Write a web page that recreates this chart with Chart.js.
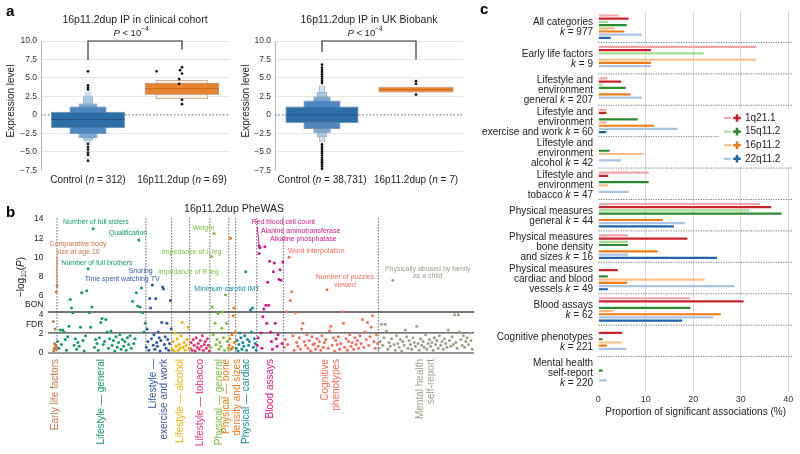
<!DOCTYPE html>
<html><head><meta charset="utf-8">
<script src="https://cdn.jsdelivr.net/npm/chart.js@4.4.0/dist/chart.umd.min.js"></script>
<style>
html,body{margin:0;padding:0;background:#fff;width:800px;height:454px;overflow:hidden;}
canvas{position:absolute;}
.lt{position:absolute;z-index:5;font:bold 15px 'Liberation Sans',Arial,sans-serif;line-height:15px;color:#000;}
</style></head><body>
<canvas id="ca1" width="240" height="195" style="left:0;top:0"></canvas>
<canvas id="ca2" width="230" height="195" style="left:240px;top:0"></canvas>
<canvas id="cb" width="480" height="259" style="left:0;top:195px"></canvas>
<canvas id="cc" width="320" height="454" style="left:480px;top:0"></canvas>
<div class="lt" style="left:6px;top:3px">a</div>
<div class="lt" style="left:6px;top:204px">b</div>
<div class="lt" style="left:480px;top:1px">c</div>
<script>
// ================= DATA =================
// ---- Panel a : letter-value (boxen) boxes [low, high], medians, outliers ----
const yTicksA = [-7.5, -5, -2.5, 0, 2.5, 5, 7.5, 10];

const clinCtrlBoxes = [[-1.81, 0.42], [-2.58, 1.13], [-3.12, 1.55], [-3.48, 2.48], [-3.84, 3.18]];
const clinCtrlMedian = -0.63;
const clinCtrlOutliers = [5.9, 4.0, 3.7, 3.45, -3.95, -4.35, -4.7, -5.1, -5.4, -6.2];
const clinDupBoxes = [[2.72, 4.3], [2.15, 4.68]];
const clinDupMedian = 3.6;
const clinDupOutliers = [5.9, 6.45, 6.05, 5.6, 4.85, 4.2, 2.05, 1.45];
const clinBracket = [7.4, 10, 8.8];
const clinN = ['312', '69'];

const ukbCtrlBoxes = [[-1.09, 1.13], [-1.9, 1.94], [-2.49, 2.48], [-3.03, 3.07], [-3.71, 3.98]];
const ukbCtrlMedian = 0;
const ukbCtrlOutliers = [4.3, 4.6, 4.9, 5.2, 5.5, 5.8, 6.1, 6.4, 6.8, -4.0, -4.3, -4.6, -4.9, -5.2, -5.5, -5.8, -6.1, -6.4, -6.7, -7.0, -7.3];
const ukbDupBoxes = [[3.03, 3.8]];
const ukbDupMedian = 3.45;
const ukbDupOutliers = [4.56, 4.2, 2.75];
const ukbBracket = [8.5, 10, 7.5];
const ukbN = ['38,731', '7'];

// ---- Panel b : PheWAS -log10(P) per category ----
const pheNames = [['Early life factors'], ['Lifestyle — general'], ['Lifestyle —', 'exercise and work'], ['Lifestyle — alcohol'], ['Lifestyle — tobacco'], ['Physical — general'], ['Physical — bone', 'density and sizes'], ['Physical — cardiac'], ['Blood assays'], ['Cognitive', 'phenotypes'], ['Mental health', 'self-report']];
const pheK = [9, 207, 60, 42, 47, 44, 16, 49, 62, 221, 220];
const pheEarly = [3.3, 0.2, 0.5, 1.0, 2.5, 0.8, 0.4, 6.4, 0.6];
const pheLifeGeneral = [1.2, 0.5, 2.4, 0.9, 2.4, 2.2, 1.4, 0.3, 1.7, 2.8, 5.6, 4.7, 4.2, 0.8, 1.5, 0.4, 1.1, 0.7, 2.7, 6.3, 1.3, 0.2, 1.8, 6.5, 8.8, 4.2, 2.7, 4.8, 13.0, 0.6, 1.4, 1.0, 0.3, 1.6, 3.2, 3.6, 0.9, 1.2, 3.5, 2.2, 0.5, 1.5, 2.3, 0.8, 1.3, 0.2, 1.7, 0.6, 1.1, 1.9, 0.4, 1.4, 0.7, 1.2, 0.3, 1.6, 0.9, 1.8, 0.5, 5.4, 1.0, 1.5, 6.3, 4.9, 11.8, 4.8, 6.8, 4.2, 2.2, 3.1];
const pheExercise = [0.6, 2.5, 1.2, 0.3, 5.7, 4.7, 1.5, 7.1, 0.8, 1.9, 0.4, 5.7, 1.1, 0.7, 2.2, 1.6, 0.2, 1.3, 3.2, 6.9, 6.7, 0.9, 1.7, 0.5, 3.1, 1.4, 0.3, 1.0, 5.5, 2.5];
const pheAlcohol = [0.4, 1.2, 0.2, 2.1, 0.7, 1.5, 0.3, 0.9, 0.5, 1.8, 3.2, 0.6, 1.1, 0.3, 0.8, 1.4, 2.7, 0.5];
const pheTobacco = [0.5, 1.1, 0.3, 1.4, 0.8, 0.2, 1.6, 0.6, 1.0, 0.4, 1.3, 0.7, 1.8, 0.3, 0.9, 1.2, 0.5, 1.5, 0.8, 0.2];
const phePhysGeneral = [0.6, 10.1, 4.8, 1.9, 12.5, 3.1, 0.9, 1.4, 4.1, 0.4, 1.1, 0.7, 2.6, 4.3, 1.6, 0.3, 6.1, 3.1, 1.2, 0.5];
const pheBone = [0.8, 1.5, 12.0, 0.4, 1.9, 0.6, 3.9, 4.7, 1.1, 2.2];
const pheCardiac = [0.5, 1.3, 0.2, 0.9, 2.1, 1.6, 0.4, 1.1, 0.7, 1.8, 8.5, 0.3, 1.4, 0.8, 1.2, 4.5, 2.2, 4.7, 0.6, 1.5, 1.0, 0.3];
const pheBlood = [0.8, 1.6, 10.4, 11.0, 2.1, 0.5, 3.8, 4.6, 11.1, 5.0, 3.1, 7.4, 5.0, 9.6, 2.2, 1.2, 0.4, 8.5, 9.4, 3.1, 1.5, 0.7, 1.9, 7.7, 8.7, 7.6, 1.0, 9.5];
const pheCognitive = [0.6, 1.4, 4.3, 0.9, 10.0, 5.5, 6.4, 1.8, 0.3, 4.2, 1.1, 0.7, 1.6, 0.4, 2.5, 3.1, 1.2, 0.8, 1.9, 0.5, 1.3, 0.2, 1.7, 0.9, 1.0, 0.4, 1.5, 0.7, 1.2, 0.3, 1.8, 0.6, 1.1, 1.4, 6.6, 0.5, 2.3, 2.8, 0.8, 1.6, 0.2, 1.3, 0.9, 1.7, 0.4, 1.0, 4.3, 3.1, 0.6, 1.5, 0.3, 1.2, 1.9, 0.7, 1.1, 0.4, 1.6, 0.9, 1.3, 0.5, 1.8, 1.0, 3.5, 0.6, 2.2, 1.4, 3.2, 0.8, 1.7, 2.7, 3.9, 1.2, 0.5, 1.9, 1.0];
const pheMental = [0.5, 1.2, 3.0, 0.8, 1.6, 3.0, 2.3, 0.4, 1.1, 0.7, 1.5, 7.6, 0.9, 0.3, 1.8, 1.0, 0.6, 1.4, 0.2, 1.2, 0.8, 2.4, 1.7, 0.5, 1.3, 0.9, 0.4, 1.6, 1.1, 0.7, 2.8, 1.0, 0.3, 1.5, 0.8, 1.2, 0.6, 1.9, 0.4, 1.0, 1.4, 0.7, 1.1, 0.3, 1.6, 0.9, 1.3, 0.5, 1.8, 0.8, 1.2, 0.4, 1.5, 1.0, 0.6, 2.4, 1.3, 0.7, 1.7, 0.9, 4.0, 1.1, 0.5, 4.0, 2.2, 1.4, 0.8, 1.8, 0.6, 1.2, 1.6, 0.9, 2.1, 1.3, 0.4];
const pheValues = [pheEarly, pheLifeGeneral, pheExercise, pheAlcohol, pheTobacco, phePhysGeneral, pheBone, pheCardiac, pheBlood, pheCognitive, pheMental];
const pheYTicks = [0, 2, 4, 6, 8, 10, 12, 14];
const bonThreshold = 4.29;
const fdrThreshold = 2.1;

// ---- Panel c : proportion of significant associations (%) ----
const cLabels = [
  ['All categories', ''],
  ['Early life factors', ''],
  ['Lifestyle and', 'environment', 'general'],
  ['Lifestyle and', 'environment', 'exercise and work'],
  ['Lifestyle and', 'environment', 'alcohol'],
  ['Lifestyle and', 'environment', 'tobacco'],
  ['Physical measures', 'general'],
  ['Physical measures', 'bone density', 'and sizes'],
  ['Physical measures', 'cardiac and blood', 'vessels'],
  ['Blood assays', ''],
  ['Cognitive phenotypes', ''],
  ['Mental health', 'self-report', '']
];
const cK = [977, 9, 207, 60, 42, 47, 44, 16, 49, 62, 221, 220];
const cnvNames = ['1q21.1', '15q11.2', '16p11.2', '22q11.2'];
const del1q21  = [4.2, 33.3, 1.9, 1.7, null, 10.6, 34.1, 6.25, null, 19.4, null, null];
const dup1q21  = [6.4, 11.1, 4.8, 1.7, null, 2.1, 36.4, 18.75, 4.1, 30.6, 5.0, null];
const del15q11 = [2.0, 22.2, 0.97, null, null, null, 31.8, 6.25, null, null, null, null];
const dup15q11 = [6.0, null, 5.8, 8.3, 2.4, 10.6, 38.6, 6.25, 2.0, 19.4, 0.9, 0.9];
const del16p11 = [3.4, 33.3, null, 1.7, 9.5, 2.1, null, null, 22.4, 3.2, 5.0, null];
const dup16p11 = [5.5, 11.1, 6.8, 11.7, null, null, 13.6, 12.5, 6.1, 25.8, 1.8, null];
const del22q11 = [9.2, 11.1, 9.2, 16.7, 4.8, 6.4, 18.2, 6.25, 28.6, 24.2, 5.9, 1.8];
const dup22q11 = [2.6, null, null, 1.7, null, null, 15.9, 25.0, 2.0, 17.7, null, null];
const cXTicks = [0, 10, 20, 30, 40];

// ================= STYLE =================
const FF = "'Liberation Sans', Arial, Helvetica, sans-serif";
Chart.defaults.font.family = FF;
Chart.defaults.color = '#222';
const TXT = '#222';
const blueLevels = ['#2f6ea5', '#4c88be', '#7ba7d1', '#a9c6e3', '#d0e0f0'];
const orangeLevels = ['#e8822e', '#fdf0e3'];
const pheColors = ['#c8764a', '#12996a', '#3056a5', '#f0b400', '#e8326d', '#7cbd40', '#f07a12', '#138a9e', '#d3148c', '#fa6d5d', '#9ea08c'];
const cnvLight = ['#f5a3a6', '#a3dc92', '#fcbd85', '#a9c4e5'];
const cnvDark = ['#c9202b', '#2b8a30', '#ef7a16', '#1f64a8'];

function drawRich(ctx, segs, x, y, align, size, color) {
  ctx.save();
  ctx.fillStyle = color; ctx.textBaseline = 'middle'; ctx.textAlign = 'left';
  const parts = segs.map(s => {
    const sz = (s.sup || s.sub) ? size * 0.68 : size;
    const font = (s.it ? 'italic ' : '') + sz + 'px ' + FF;
    ctx.font = font;
    return {s, font, w: ctx.measureText(s.t).width};
  });
  const total = parts.reduce((a, p) => a + p.w, 0);
  let cx = align === 'center' ? x - total / 2 : (align === 'right' ? x - total : x);
  parts.forEach(p => {
    ctx.font = p.font;
    const dy = p.s.sup ? -size * 0.38 : (p.s.sub ? size * 0.3 : 0);
    ctx.fillText(p.s.t, cx, y + dy);
    cx += p.w;
  });
  ctx.restore();
}
function drawRot(ctx, segs, x, y, align, size, color) {
  ctx.save(); ctx.translate(x, y); ctx.rotate(-Math.PI / 2);
  drawRich(ctx, segs, 0, 0, align, size, color);
  ctx.restore();
}

// ================= PANEL A =================
function boxenChart(id, o) {
  const pts = [];
  o.ctrlOut.forEach(v => pts.push({x: 0, y: v}));
  o.dupOut.forEach((v, i) => pts.push({x: 1 + (o.dupDx ? o.dupDx[i] : 0), y: v}));
  const bar = (data, w, fill, stroke, bw) => ({type: 'bar', xAxisID: 'x', yAxisID: 'y', data, barPercentage: w, categoryPercentage: 1, grouped: false, backgroundColor: fill, borderColor: stroke, borderWidth: bw, borderSkipped: false});
  const ds = [{type: 'scatter', xAxisID: 'xs', yAxisID: 'y', data: pts, pointRadius: 1.35, backgroundColor: '#111', borderWidth: 0, clip: false}];
  ds.push(bar([[o.ctrlMed - 0.05, o.ctrlMed + 0.05], null], o.ctrlW[0], 'rgba(20,55,95,0.55)', 'rgba(0,0,0,0)', 0));
  ds.push(bar([null, [o.dupMed - 0.05, o.dupMed + 0.05]], o.dupW[0], 'rgba(150,75,15,0.45)', 'rgba(0,0,0,0)', 0));
  o.ctrlBoxes.forEach((b, j) => ds.push(bar([b, null], o.ctrlW[j], blueLevels[j], 'rgba(105,130,160,0.95)', 0.7)));
  o.dupBoxes.forEach((b, j) => ds.push(bar([null, b], o.dupW[j], orangeLevels[j], 'rgba(150,115,85,0.9)', 0.7)));
  new Chart(document.getElementById(id), {
    type: 'bar',
    data: {labels: ['Control', '16p11.2dup'], datasets: ds},
    options: {
      responsive: false, animation: false, devicePixelRatio: 1, events: [],
      layout: {padding: {left: 0, right: o.padR, top: 41, bottom: 24.7}},
      plugins: {legend: {display: false}, tooltip: {enabled: false}},
      scales: {
        x: {type: 'category', display: false, offset: true},
        xs: {type: 'linear', display: false, offset: false, min: -0.5, max: 1.5, grid: {offset: false}},
        y: {type: 'linear', min: -7.5, max: 10,
          afterBuildTicks: s => { s.ticks = yTicksA.map(v => ({value: v})); },
          afterFit: s => { s.width = o.axisW; },
          ticks: {font: {size: 8.5}, color: '#333', padding: 4, callback: v => v === 0 ? '0' : v.toFixed(1).replace('-', '−')},
          grid: {drawTicks: false, color: c => (c.tick && (c.tick.value === 0 || c.tick.value === -7.5)) ? 'rgba(0,0,0,0)' : '#e6e6e6'},
          border: {display: true, color: '#b8b8b8', width: 1}}
      }
    },
    plugins: [{
      id: 'annA',
      beforeDatasetsDraw(chart) {
        const ctx = chart.ctx, a = chart.chartArea, y0 = chart.scales.y.getPixelForValue(0);
        ctx.save(); ctx.strokeStyle = '#666'; ctx.lineWidth = 1; ctx.setLineDash([1.5, 2]);
        ctx.beginPath(); ctx.moveTo(a.left, y0); ctx.lineTo(a.right, y0); ctx.stroke(); ctx.restore();
      },
      afterDraw(chart) {
        const ctx = chart.ctx, a = chart.chartArea, xc = chart.scales.x, y = chart.scales.y;
        const x0 = xc.getPixelForValue(0), x1 = xc.getPixelForValue(1), cx = (a.left + a.right) / 2;
        drawRich(ctx, [{t: o.title}], cx, 20, 'center', 10.5, TXT);
        ctx.save(); ctx.strokeStyle = '#333'; ctx.lineWidth = 1.2; ctx.beginPath();
        ctx.moveTo(x0, y.getPixelForValue(o.bracket[0])); ctx.lineTo(x0, y.getPixelForValue(o.bracket[1]));
        ctx.lineTo(x1, y.getPixelForValue(o.bracket[1])); ctx.lineTo(x1, y.getPixelForValue(o.bracket[2]));
        ctx.stroke(); ctx.restore();
        drawRich(ctx, [{t: 'P', it: true}, {t: ' < 10'}, {t: '−4', sup: true}], (x0 + x1) / 2 - 4, 33, 'center', 9.5, TXT);
        drawRich(ctx, [{t: 'Control ('}, {t: 'n', it: true}, {t: ' = ' + o.n[0] + ')'}], x0, 180, 'center', 10, TXT);
        drawRich(ctx, [{t: '16p11.2dup ('}, {t: 'n', it: true}, {t: ' = ' + o.n[1] + ')'}], x1, 180, 'center', 10, TXT);
        drawRot(ctx, [{t: 'Expression level'}], o.yTitleX, 101, 'center', 10, TXT);
      }
    }]
  });
}
boxenChart('ca1', {ctrlBoxes: clinCtrlBoxes, ctrlMed: clinCtrlMedian, ctrlOut: clinCtrlOutliers,
  dupBoxes: clinDupBoxes, dupMed: clinDupMedian, dupOut: clinDupOutliers, dupDx: [-0.27, 0, -0.02, 0, -0.03, -0.03, 0, 0],
  ctrlW: [0.787, 0.394, 0.202, 0.106, 0.071], dupW: [0.787, 0.553],
  bracket: clinBracket, n: clinN, title: '16p11.2dup IP in clinical cohort', axisW: 41, padR: 11, yTitleX: 11});
boxenChart('ca2', {ctrlBoxes: ukbCtrlBoxes, ctrlMed: ukbCtrlMedian, ctrlOut: ukbCtrlOutliers,
  dupBoxes: ukbDupBoxes, dupMed: ukbDupMedian, dupOut: ukbDupOutliers, dupDx: null,
  ctrlW: [0.777, 0.394, 0.184, 0.106, 0.06], dupW: [0.8],
  bracket: ukbBracket, n: ukbN, title: '16p11.2dup IP in UK Biobank', axisW: 35, padR: 7, yTitleX: 6});

// ================= PANEL B =================
const pheStarts = [];
{ let s = 0; pheK.forEach(k => { pheStarts.push(s); s += k; }); }
const pheDatasets = pheValues.map((vals, c) => ({
  data: vals.map((v, i) => ({x: pheStarts[c] + (i + 0.5) * pheK[c] / vals.length, y: v})),
  backgroundColor: pheColors[c], pointRadius: 1.5, borderWidth: 0, clip: false
}));
const pheNotes = [
  {t: ['Number of full sisters'], x: 99.6, y: 13.66, c: 1},
  {t: ['Qualification'], x: 174.3, y: 12.5, c: 1},
  {t: ['Comparative body', 'size at age 10'], x: 58, y: 11.36, c: 0},
  {t: ['Number of full brothers'], x: 102.2, y: 9.44, c: 1},
  {t: ['Snoring'], x: 204, y: 8.54, c: 2},
  {t: ['Time spent watching TV'], x: 161, y: 7.7, c: 2},
  {t: ['Weight'], x: 349.6, y: 13.1, c: 5},
  {t: ['Impedance of L leg'], x: 322.6, y: 10.6, c: 5},
  {t: ['Impedance of R leg'], x: 314.7, y: 8.46, c: 5},
  {t: ['Minimum carotid IMT'], x: 404.8, y: 6.72, c: 7},
  {t: ['Red blood cell count'], x: 535.8, y: 13.66, c: 8},
  {t: ['Alanine aminotransferase'], x: 576.4, y: 12.78, c: 8},
  {t: ['Alkaline phosphatase'], x: 582.4, y: 11.94, c: 8},
  {t: ['Word interpolation'], x: 612.6, y: 10.69, c: 9},
  {t: ['Number of puzzles', 'viewed'], x: 679.5, y: 7.91, c: 9},
  {t: ['Physically abused by family', 'as a child'], x: 872, y: 8.81, c: 10}
];
const pheArrows = [
  {x0: 9.1, y0: 10.14, x1: 9.1, y1: 6.75, c: 0},
  {x0: 475.3, y0: 13.17, x1: 480.4, y1: 10.9, c: 8}
];
new Chart(document.getElementById('cb'), {
  type: 'scatter',
  data: {datasets: pheDatasets},
  options: {
    responsive: false, animation: false, devicePixelRatio: 1, events: [],
    layout: {padding: {left: 0, right: 5.9, top: 21.2, bottom: 101}},
    plugins: {legend: {display: false}, tooltip: {enabled: false}},
    scales: {
      x: {type: 'linear', display: false, min: -12, max: 980},
      y: {type: 'linear', min: 0, max: 14.3,
        afterBuildTicks: s => { s.ticks = pheYTicks.concat([3.0, 5.1]).sort((a, b) => a - b).map(v => ({value: v})); },
        afterFit: s => { s.width = 47.9; },
        ticks: {font: {size: 8.5}, color: '#222', padding: 4.5, callback: v => v === 5.1 ? 'BON' : (v === 3.0 ? 'FDR' : String(v))},
        grid: {display: false, drawTicks: false}, border: {display: false}}
    }
  },
  plugins: [{
    id: 'annB',
    beforeDatasetsDraw(chart) {
      const ctx = chart.ctx, a = chart.chartArea, x = chart.scales.x, y = chart.scales.y;
      ctx.save();
      ctx.strokeStyle = '#555'; ctx.lineWidth = 1; ctx.setLineDash([1.4, 1.6]);
      pheStarts.slice(1).forEach(s => {
        const px = x.getPixelForValue(s);
        ctx.beginPath(); ctx.moveTo(px, y.getPixelForValue(14.1)); ctx.lineTo(px, y.getPixelForValue(0)); ctx.stroke();
      });
      ctx.setLineDash([]);
      ctx.strokeStyle = '#474747'; ctx.lineWidth = 1.4;
      [bonThreshold, fdrThreshold].forEach(v => {
        const py = y.getPixelForValue(v);
        ctx.beginPath(); ctx.moveTo(a.left, py); ctx.lineTo(a.right, py); ctx.stroke();
      });
      ctx.strokeStyle = '#999'; ctx.lineWidth = 1.8;
      const p0 = y.getPixelForValue(0);
      ctx.beginPath(); ctx.moveTo(a.left, p0); ctx.lineTo(a.right, p0); ctx.stroke();
      ctx.restore();
    },
    afterDraw(chart) {
      const ctx = chart.ctx, a = chart.chartArea, x = chart.scales.x, y = chart.scales.y;
      drawRich(ctx, [{t: '16p11.2dup PheWAS'}], 234, 14, 'center', 10.5, TXT);
      drawRot(ctx, [{t: '−log'}, {t: '10', sub: true}, {t: '('}, {t: 'P', it: true}, {t: ')'}], 21, 82, 'center', 10, TXT);
      pheNames.forEach((lines, c) => {
        const px = x.getPixelForValue(pheStarts[c] + pheK[c] / 2);
        lines.forEach((ln, j) => {
          const lx = px + (j - (lines.length - 1) / 2) * 11;
          drawRot(ctx, [{t: ln}], lx, 164, 'right', 10, pheColors[c]);
        });
      });
      pheNotes.forEach(nt => {
        const px = x.getPixelForValue(nt.x), py = y.getPixelForValue(nt.y);
        nt.t.forEach((ln, j) => drawRich(ctx, [{t: ln}], px, py + j * 7.3, 'center', 7, pheColors[nt.c]));
      });
      pheArrows.forEach(ar => {
        const X0 = x.getPixelForValue(ar.x0), Y0 = y.getPixelForValue(ar.y0), X1 = x.getPixelForValue(ar.x1), Y1 = y.getPixelForValue(ar.y1);
        ctx.save(); ctx.strokeStyle = pheColors[ar.c]; ctx.fillStyle = pheColors[ar.c]; ctx.lineWidth = 1;
        ctx.beginPath(); ctx.moveTo(X0, Y0); ctx.lineTo(X1, Y1); ctx.stroke();
        const ang = Math.atan2(Y1 - Y0, X1 - X0);
        ctx.beginPath(); ctx.moveTo(X1, Y1);
        ctx.lineTo(X1 - 4 * Math.cos(ang - 0.45), Y1 - 4 * Math.sin(ang - 0.45));
        ctx.lineTo(X1 - 4 * Math.cos(ang + 0.45), Y1 - 4 * Math.sin(ang + 0.45));
        ctx.closePath(); ctx.fill(); ctx.restore();
      });
    }
  }]
});

// ================= PANEL C =================
const cSeries = [del1q21, dup1q21, del15q11, dup15q11, del16p11, dup16p11, del22q11, dup22q11];
const cColors = [cnvLight[0], cnvDark[0], cnvLight[1], cnvDark[1], cnvLight[2], cnvDark[2], cnvLight[3], cnvDark[3]];
new Chart(document.getElementById('cc'), {
  type: 'bar',
  data: {labels: cLabels.map((_, i) => String(i)), datasets: cSeries.map((d, j) => ({data: d, backgroundColor: cColors[j], borderWidth: 0, categoryPercentage: 0.815, barPercentage: 0.68}))},
  options: {
    indexAxis: 'y', responsive: false, animation: false, devicePixelRatio: 1, events: [],
    layout: {padding: {left: 118.3, right: 7, top: 11, bottom: 44}},
    plugins: {legend: {display: false}, tooltip: {enabled: false}},
    scales: {
      x: {type: 'linear', min: 0, max: 41, position: 'bottom',
        afterBuildTicks: s => { s.ticks = cXTicks.map(v => ({value: v})); },
        afterFit: s => { s.height = 22; },
        ticks: {font: {size: 9}, color: '#333', padding: 2, maxRotation: 0},
        grid: {color: c => (c.tick && c.tick.value === 0) ? 'rgba(0,0,0,0)' : '#d6d6d6', tickLength: 4},
        border: {display: false}},
      y: {type: 'category', display: false, offset: true}
    }
  },
  plugins: [{
    id: 'annC',
    beforeDatasetsDraw(chart) {
      const ctx = chart.ctx, a = chart.chartArea, y = chart.scales.y;
      ctx.save(); ctx.strokeStyle = '#777'; ctx.lineWidth = 1; ctx.setLineDash([1.2, 1.3]);
      for (let i = 0; i < cLabels.length - 1; i++) {
        const py = (y.getPixelForValue(i) + y.getPixelForValue(i + 1)) / 2;
        ctx.beginPath(); ctx.moveTo(a.left, py); ctx.lineTo(a.right, py); ctx.stroke();
      }
      ctx.restore();
    },
    afterDraw(chart) {
      const ctx = chart.ctx, a = chart.chartArea, y = chart.scales.y;
      cLabels.forEach((lines, i) => {
        const cy = y.getPixelForValue(i) + 1, n = lines.length;
        lines.forEach((ln, j) => {
          const ly = cy + (j - (n - 1) / 2) * 10;
          let segs;
          if (j === n - 1) {
            segs = (ln ? [{t: ln + ' '}] : []).concat([{t: 'k', it: true}, {t: ' = ' + cK[i]}]);
          } else segs = [{t: ln}];
          drawRich(ctx, segs, 113, ly, 'right', 10, TXT);
        });
      });
      drawRich(ctx, [{t: 'Proportion of significant associations (%)'}], (a.left + a.right) / 2, 412, 'center', 10, TXT);
      ctx.save(); ctx.fillStyle = '#fff'; ctx.fillRect(239, 109, 73, 58); ctx.restore();
      cnvNames.forEach((nm, j) => {
        const ly = 118 + j * 13.6;
        ctx.save();
        ctx.strokeStyle = cnvLight[j]; ctx.lineWidth = 2;
        ctx.beginPath(); ctx.moveTo(244, ly); ctx.lineTo(251, ly); ctx.stroke();
        ctx.strokeStyle = cnvDark[j]; ctx.lineWidth = 2.6;
        ctx.beginPath(); ctx.moveTo(253.2, ly); ctx.lineTo(260.8, ly); ctx.moveTo(257, ly - 3.8); ctx.lineTo(257, ly + 3.8); ctx.stroke();
        ctx.restore();
        drawRich(ctx, [{t: nm}], 265, ly, 'left', 10, TXT);
      });
    }
  }]
});
</script>
</body></html>
